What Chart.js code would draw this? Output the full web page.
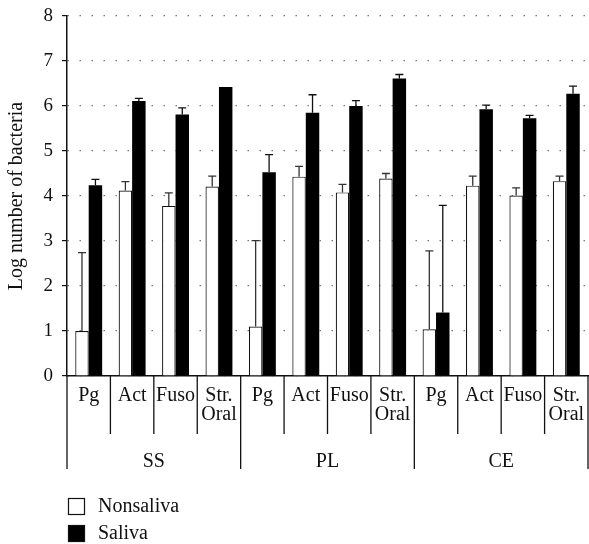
<!DOCTYPE html>
<html>
<head>
<meta charset="utf-8">
<script src="https://cdn.jsdelivr.net/npm/chart.js@4/dist/chart.umd.min.js"></script>
<style>
  body { margin: 0; background: #fff; }
  canvas { display: block; }
</style>
</head>
<body>
<canvas id="bacteriaChart" width="589" height="544"></canvas>
<script>
const groups = ['SS', 'PL', 'CE'];
const bacteria = ['Pg', 'Act', 'Fuso', ['Str.', 'Oral']];
const categories = [...bacteria, ...bacteria, ...bacteria];

const nonsaliva = [1.00, 4.12, 3.78, 4.21, 1.10, 4.43, 4.08, 4.39, 1.04, 4.23, 4.01, 4.33];
const nonsalivaSD = [1.74, 0.20, 0.29, 0.23, 1.91, 0.23, 0.18, 0.11, 1.74, 0.21, 0.17, 0.11];
const saliva = [4.24, 6.11, 5.81, 6.42, 4.53, 5.85, 6.00, 6.61, 1.41, 5.93, 5.73, 6.27];
const salivaSD = [0.13, 0.06, 0.15, 0, 0.39, 0.40, 0.12, 0.09, 2.38, 0.09, 0.06, 0.17];

const yTicks = [0, 1, 2, 3, 4, 5, 6, 7, 8];

const serif = '"Liberation Serif", "DejaVu Serif", serif';
const ink = '#111';

// error bars (upper whisker only)
const errorBars = {
  id: 'errorBars',
  afterDatasetsDraw(chart) {
    const y = chart.scales.y;
    const ctx = chart.ctx;
    ctx.save();
    chart.data.datasets.forEach((ds, di) => {
      const meta = chart.getDatasetMeta(di);
      meta.data.forEach((bar, i) => {
        const sd = ds.sd[i];
        if (!sd) return;
        const top = y.getPixelForValue(ds.data[i] + sd);
        ctx.strokeStyle = di === 0 ? '#333' : ink;
        ctx.lineWidth = 1.3;
        ctx.beginPath();
        ctx.moveTo(bar.x, bar.y);
        ctx.lineTo(bar.x, top);
        ctx.moveTo(bar.x - 4, top);
        ctx.lineTo(bar.x + 4, top);
        ctx.stroke();
      });
    });
    ctx.restore();
  }
};

// category dividers, group labels and legend
const groupAxis = {
  id: 'groupAxis',
  afterDraw(chart) {
    const x = chart.scales.x;
    const area = chart.chartArea;
    const ctx = chart.ctx;
    const n = categories.length;
    const per = bacteria.length;
    const step = (x.getPixelForValue(1) - x.getPixelForValue(0));
    ctx.save();
    ctx.strokeStyle = ink;
    ctx.lineWidth = 1.3;
    for (let i = 0; i <= n; i++) {
      let px = i === n ? x.getPixelForValue(n - 1) + step / 2 : x.getPixelForValue(i) - step / 2;
      if (i === n) px = Math.min(px, chart.width - 1);
      const bottom = i % per === 0 ? 469 : 434;
      ctx.beginPath();
      ctx.moveTo(px, area.bottom);
      ctx.lineTo(px, bottom);
      ctx.stroke();
    }
    ctx.fillStyle = ink;
    ctx.font = '20px ' + serif;
    ctx.textAlign = 'center';
    ctx.textBaseline = 'alphabetic';
    groups.forEach((g, gi) => {
      const a = x.getPixelForValue(gi * per);
      const b = x.getPixelForValue(gi * per + per - 1);
      ctx.fillText(g, (a + b) / 2, 467);
    });

    // legend
    const rows = [498, 525];
    ctx.textAlign = 'left';
    ctx.textBaseline = 'middle';
    chart.data.datasets.forEach((ds, di) => {
      const top = rows[di];
      ctx.fillStyle = ds.backgroundColor;
      ctx.fillRect(68.5, top + 0.5, 16, 16);
      ctx.strokeStyle = ink;
      ctx.lineWidth = 1.2;
      ctx.strokeRect(68.5, top + 0.5, 16, 16);
      ctx.fillStyle = ink;
      ctx.fillText(ds.label, 98, top + 9);
    });
    ctx.restore();
  }
};

const ctx = document.getElementById('bacteriaChart').getContext('2d');
const chart = new Chart(ctx, {
  type: 'bar',
  data: {
    labels: categories,
    datasets: [
      {
        label: 'Nonsaliva',
        data: nonsaliva,
        sd: nonsalivaSD,
        backgroundColor: '#ffffff',
        borderColor: ink,
        borderWidth: 1.2,
        categoryPercentage: 0.62,
        barPercentage: 1.0
      },
      {
        label: 'Saliva',
        data: saliva,
        sd: salivaSD,
        backgroundColor: '#000000',
        borderColor: '#000000',
        borderWidth: 0,
        categoryPercentage: 0.62,
        barPercentage: 1.0
      }
    ]
  },
  options: {
    responsive: false,
    animation: false,
    layout: { padding: { top: 16, right: 1, left: 0, bottom: 0 } },
    plugins: {
      legend: { display: false },
      tooltip: { enabled: false }
    },
    scales: {
      x: {
        grid: { display: false, drawTicks: false },
        border: { display: true, color: ink, width: 1.5 },
        ticks: {
          autoSkip: false,
          maxRotation: 0,
          padding: 10,
          color: ink,
          font: { family: serif, size: 20, lineHeight: 0.95 }
        },
        afterFit(scale) {
          scale.height = 168;
          scale.paddingLeft = 0;
          scale.paddingRight = 0;
        }
      },
      y: {
        min: 0,
        max: 8,
        afterBuildTicks(scale) { scale.ticks = yTicks.map(v => ({ value: v })); },
        grid: {
          color: '#777',
          lineWidth: 1.2,
          tickLength: 5,
          tickColor: ink,
          tickBorderDash: [],
          drawTicks: true
        },
        border: { display: true, color: ink, width: 1.5, dash: [1.5, 10.5] },
        ticks: {
          padding: 9,
          color: ink,
          font: { family: serif, size: 19 }
        },
        title: {
          display: true,
          text: 'Log number of bacteria',
          color: ink,
          padding: { top: 5, bottom: 0 },
          font: { family: serif, size: 20 }
        },
        afterFit(scale) {
          scale.width = 67;
          scale.paddingTop = 0;
          scale.paddingBottom = 0;
        }
      }
    }
  },
  plugins: [errorBars, groupAxis]
});
</script>
</body>
</html>
